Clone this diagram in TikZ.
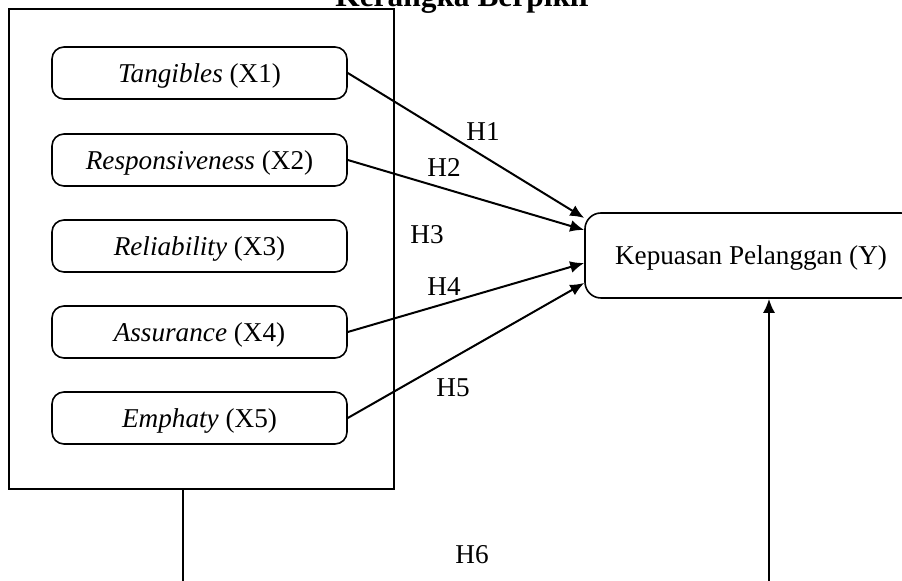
\documentclass[tikz,border=0pt]{standalone}
\usepackage{fontspec}
\setmainfont{Liberation Serif}
\usetikzlibrary{calc,arrows.meta}

\begin{document}
\begin{tikzpicture}[x=0.5pt,y=-0.5pt,
		varbox/.style={draw, line width=0.8pt, rounded corners=6pt, minimum width=147.5pt, minimum height=26pt, inner sep=0pt, text depth=0pt, font=\fontsize{13.6}{16}\selectfont},
		hyp/.style={font=\fontsize{13.6}{16}\selectfont},
		link/.style={line width=1pt, -{Latex[length=7pt,width=6pt]}}]
		\useasboundingbox (0,0) rectangle (902,581);
		
		\node (title) at (464,7) [anchor=base, font=\bfseries\fontsize{15.7}{18}\selectfont] {Kerangka Berpikir};
		
		\node (outer) at (201.5,249) [draw, line width=0.8pt, minimum width=192.5pt, minimum height=240pt] {};
		
		\node (x1) at (199.5,73) [varbox] {\textit{Tangibles} (X1)};
		\node (x2) at (199.5,160) [varbox] {\textit{Responsiveness} (X2)};
		\node (x3) at (199.5,246) [varbox] {\textit{Reliability} (X3)};
		\node (x4) at (199.5,332) [varbox] {\textit{Assurance} (X4)};
		\node (x5) at (199.5,418) [varbox] {\textit{Emphaty} (X5)};
		
		\node (ky) at (751,255.5) [varbox, minimum width=166pt, minimum height=42.5pt, rounded corners=8pt] {Kepuasan Pelanggan (Y)};
		
		\draw[link] (x1.east) -- ([yshift=18.75pt]ky.west);
		\draw[link] (x2.east) -- ([yshift=12.75pt]ky.west);
		\draw[link] (x4.east) -- ([yshift=-3.75pt]ky.west);
		\draw[link] (x5.east) -- ([yshift=-13.75pt]ky.west);
		
		\coordinate (lbot) at (183,581);
		\coordinate (rbot) at (769,581);
		\draw[line width=0.8pt] (lbot |- outer.south) -- (lbot);
		\draw[link] (rbot) -- (rbot |- ky.south);
		
		\node (h1) at (483,132) [hyp] {H1};
		\node (h2) at (444,168) [hyp] {H2};
		\node (h3) at (427,235) [hyp] {H3};
		\node (h4) at (444,287) [hyp] {H4};
		\node (h5) at (453,388) [hyp] {H5};
		\node (h6) at (472,555) [hyp] {H6};
	\end{tikzpicture}
\end{document}
